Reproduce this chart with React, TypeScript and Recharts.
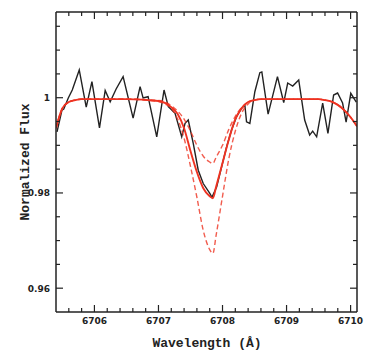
import React from "react";
import { Line, LineChart, XAxis, YAxis } from "recharts";

// observed spectrum (wavelength in Å, normalized flux)
const obsWave = [
  6705.416, 6705.493, 6705.521, 6705.592, 6705.654, 6705.763, 6705.872, 6705.961,
  6706.079, 6706.168, 6706.246, 6706.339, 6706.448, 6706.604, 6706.713, 6706.76,
  6706.838, 6706.973, 6707.087, 6707.154, 6707.259, 6707.363, 6707.415, 6707.465,
  6707.543, 6707.621, 6707.699, 6707.804, 6707.835, 6707.908, 6707.986, 6708.064,
  6708.141, 6708.219, 6708.297, 6708.349, 6708.375, 6708.427, 6708.505, 6708.583,
  6708.614, 6708.712, 6708.858, 6708.956, 6709.018, 6709.096, 6709.19, 6709.283,
  6709.361, 6709.408, 6709.47, 6709.564, 6709.646, 6709.735, 6709.797, 6709.875,
  6709.93, 6710.003, 6710.089,
];
const obsFlux = [
  0.99284, 0.99741, 0.99762, 0.99994, 1.00162, 1.00583, 0.99804, 1.00337,
  0.99368, 1.00152, 0.99916, 1.00183, 1.00442, 0.99573, 1.00232, 0.99994,
  1.00021, 0.99179, 1.00162, 0.99811, 0.99672, 0.99179, 0.99461, 0.99531,
  0.9904, 0.98478, 0.98198, 0.97987, 0.97909, 0.98126, 0.98547, 0.98968,
  0.9932, 0.996, 0.99777, 0.99846, 0.99495, 0.99461, 1.00126, 1.00526,
  1.00541, 0.99657, 1.00442, 0.99899, 1.00309, 1.00246, 1.00373, 0.99531,
  0.99215, 0.99299, 0.99179, 0.99888, 0.99251, 1.00057, 1.00099, 0.99888,
  0.99488, 1.00093, 0.99909,
];

// synthetic profiles
const modelWave = [
  6705.4, 6705.5, 6705.6, 6705.7, 6705.8, 6706.0, 6706.5, 6707.0, 6707.1, 6707.2,
  6707.3, 6707.4, 6707.5, 6707.6, 6707.7, 6707.8, 6707.85, 6707.9, 6708.0, 6708.1,
  6708.2, 6708.3, 6708.4, 6708.5, 6708.6, 6709.0, 6709.5, 6709.6, 6709.7, 6709.8,
  6709.9, 6710.0, 6710.1,
];
const modelBest = [
  0.9936, 0.9978, 0.9991, 0.9995, 0.9997, 0.9997, 0.9997, 0.9993, 0.9989, 0.998,
  0.9966, 0.9936, 0.9888, 0.9844, 0.981, 0.9793, 0.9789, 0.9813, 0.9863, 0.9913,
  0.9955, 0.9978, 0.9991, 0.9995, 0.9997, 0.9997, 0.9997, 0.9995, 0.9992, 0.9985,
  0.9974, 0.9959, 0.994,
];
const modelLow = [
  0.9936, 0.9978, 0.9991, 0.9995, 0.9997, 0.9997, 0.9997, 0.9994, 0.9991, 0.9983,
  0.9972, 0.9955, 0.993, 0.99, 0.9877, 0.9865, 0.9862, 0.9875, 0.99, 0.9934,
  0.9961, 0.998, 0.9991, 0.9995, 0.9997, 0.9997, 0.9997, 0.9995, 0.9992, 0.9985,
  0.9974, 0.9959, 0.994,
];
const modelHigh = [
  0.9936, 0.9978, 0.9991, 0.9995, 0.9997, 0.9997, 0.9997, 0.9992, 0.9987, 0.9978,
  0.9955, 0.9915, 0.9856, 0.9791, 0.9721, 0.9681, 0.9673, 0.9711, 0.9793, 0.9873,
  0.993, 0.9968, 0.9987, 0.9995, 0.9997, 0.9997, 0.9997, 0.9995, 0.9992, 0.9985,
  0.9974, 0.9959, 0.994,
];

const xTicks = [
  6705.6, 6705.8, 6706, 6706.2, 6706.4, 6706.6, 6706.8, 6707, 6707.2, 6707.4, 6707.6,
  6707.8, 6708, 6708.2, 6708.4, 6708.6, 6708.8, 6709, 6709.2, 6709.4, 6709.6, 6709.8,
  6710,
];
const yTicks = [0.96, 0.965, 0.97, 0.975, 0.98, 0.985, 0.99, 0.995, 1, 1.005, 1.01, 1.015];
const yLabels: Record<string, string> = { "0.96": "0.96", "0.98": "0.98", "1": "1" };

const rows: any[] = [];
obsWave.forEach((x, i) => rows.push({ x, obs: obsFlux[i] }));
modelWave.forEach((x, i) =>
  rows.push({ x, best: modelBest[i], low: modelLow[i], high: modelHigh[i] })
);
rows.sort((a, b) => a.x - b.x);

const INK = "#222";
const RED = "#ee3322";
const frame = { stroke: INK, strokeWidth: 1.5 };
const tickFont = { fontFamily: "DejaVu Sans", fontWeight: 700, fontSize: 9, fill: "#222" };
const isMajorX = (v: number) => Math.abs(v - Math.round(v)) < 1e-6;
const isMajorY = (v: number) => yLabels[String(v)] !== undefined;

// ticks point into the frame, like the original plot
const BottomTick = ({ x, y, payload }: any) => {
  const major = isMajorX(payload.value);
  return (
    <g>
      <line x1={x} x2={x} y1={y} y2={y - (major ? 7 : 4)} stroke={INK} strokeWidth={1.2} />
      {major && (
        <text x={x} y={y + 12} textAnchor="middle" {...tickFont}>
          {Math.round(payload.value)}
        </text>
      )}
    </g>
  );
};

const TopTick = ({ x, y, payload }: any) => {
  const major = isMajorX(payload.value);
  return <line x1={x} x2={x} y1={y} y2={y + (major ? 7 : 4)} stroke={INK} strokeWidth={1.2} />;
};

const LeftTick = ({ x, y, payload }: any) => {
  const major = isMajorY(payload.value);
  return (
    <g>
      <line x1={x} x2={x + (major ? 7 : 4)} y1={y} y2={y} stroke={INK} strokeWidth={1.2} />
      {major && (
        <text x={x - 6} y={y + 3.5} textAnchor="end" {...tickFont}>
          {yLabels[String(payload.value)]}
        </text>
      )}
    </g>
  );
};

const RightTick = ({ x, y, payload }: any) => {
  const major = isMajorY(payload.value);
  return <line x1={x} x2={x - (major ? 7 : 4)} y1={y} y2={y} stroke={INK} strokeWidth={1.2} />;
};

const labelStyle: React.CSSProperties = {
  position: "absolute",
  fontFamily: "Liberation Mono",
  fontWeight: 700,
  fontSize: 13,
  color: "#222",
  whiteSpace: "nowrap",
  lineHeight: 1,
};

export default function App() {
  const xDomain = [6705.4, 6710.1];
  const yDomain = [0.955, 1.018];
  return (
    <div style={{ position: "relative", width: 381, height: 346 }}>
      <LineChart
        width={381}
        height={346}
        data={rows}
        margin={{ top: 3, right: 31, bottom: 0, left: 0 }}>
        <XAxis
          dataKey="x"
          type="number"
          domain={xDomain}
          allowDataOverflow
          ticks={xTicks}
          interval={0}
          height={42}
          tickSize={0}
          tickMargin={0}
          tickLine={false}
          axisLine={frame}
          tick={<BottomTick />}
        />
        <XAxis
          xAxisId="top"
          orientation="top"
          dataKey="x"
          type="number"
          domain={xDomain}
          allowDataOverflow
          ticks={xTicks}
          interval={0}
          height={1}
          tickSize={0}
          tickMargin={0}
          tickLine={false}
          axisLine={frame}
          tick={<TopTick />}
        />
        <YAxis
          type="number"
          domain={yDomain}
          allowDataOverflow
          ticks={yTicks}
          interval={0}
          width={48}
          tickSize={0}
          tickMargin={0}
          tickLine={false}
          axisLine={frame}
          tick={<LeftTick />}
        />
        <YAxis
          yAxisId="right"
          orientation="right"
          type="number"
          domain={yDomain}
          allowDataOverflow
          ticks={yTicks}
          interval={0}
          width={1}
          tickSize={0}
          tickMargin={0}
          tickLine={false}
          axisLine={frame}
          tick={<RightTick />}
        />
        <Line
          dataKey="obs"
          type="linear"
          stroke={INK}
          strokeWidth={1.4}
          dot={false}
          connectNulls
          isAnimationActive={false}
        />
        <Line
          dataKey="best"
          type="monotone"
          stroke={RED}
          strokeWidth={1.9}
          dot={false}
          connectNulls
          isAnimationActive={false}
        />
        <Line
          dataKey="low"
          type="monotone"
          stroke={RED}
          strokeOpacity={0.8}
          strokeWidth={1.4}
          strokeDasharray="5 3"
          dot={false}
          connectNulls
          isAnimationActive={false}
        />
        <Line
          dataKey="high"
          type="monotone"
          stroke={RED}
          strokeOpacity={0.8}
          strokeWidth={1.4}
          strokeDasharray="5 3"
          dot={false}
          connectNulls
          isAnimationActive={false}
        />
      </LineChart>
      <div style={{ ...labelStyle, left: 17, top: 154, transform: "translate(-50%, -50%) rotate(-90deg)" }}>
        Normalized Flux
      </div>
      <div style={{ ...labelStyle, left: 199, top: 335, transform: "translate(-50%, -50%)" }}>
        Wavelength (Å)
      </div>
    </div>
  );
}
